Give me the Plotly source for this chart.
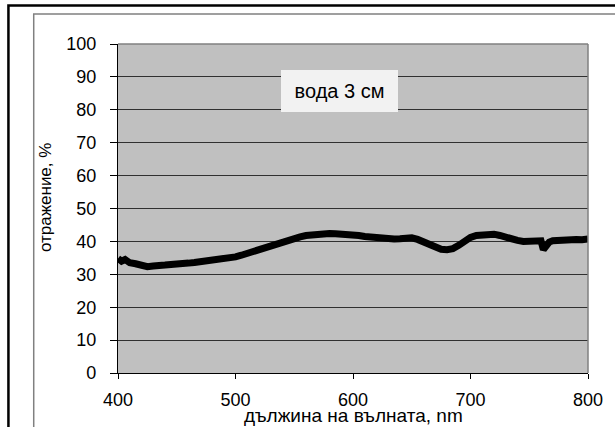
import plotly.graph_objects as go

wavelength = [400, 403, 406, 410, 415, 420, 425, 430, 435, 440, 445, 450, 455, 460, 465,
              470, 475, 480, 485, 490, 495, 500, 505, 510, 515, 520, 525, 530, 535, 540,
              545, 550, 555, 560, 565, 570, 575, 580, 585, 590, 595, 600, 605, 610, 615,
              620, 625, 630, 635, 640, 645, 650, 655, 660, 665, 670, 675, 680, 685, 690,
              695, 700, 705, 710, 715, 720, 725, 730, 735, 740, 745, 750, 755, 760, 762,
              764, 767, 770, 775, 780, 785, 790, 795, 800]
reflectance = [34.8, 34.0, 34.5, 33.5, 33.2, 32.6, 32.3, 32.5, 32.4, 32.8, 33.0, 33.3, 33.2, 33.4, 33.6,
               33.8, 34.0, 34.3, 34.5, 34.8, 35.0, 35.3, 35.8, 36.4, 37.0, 37.7, 38.2, 38.7, 39.2, 39.7,
               40.2, 40.8, 41.4, 41.8, 42.0, 42.2, 42.5, 42.4, 42.3, 42.3, 42.2, 42.0, 41.8, 41.5, 41.3,
               41.0, 41.0, 40.8, 40.7, 40.8, 40.9, 41.1, 40.6, 39.8, 39.0, 38.2, 37.6, 37.5, 37.8, 38.8,
               40.3, 41.2, 41.8, 42.0, 41.8, 42.2, 41.8, 41.2, 40.6, 40.3, 40.0, 39.9, 40.1, 40.2, 37.5,
               38.5, 39.8, 40.2, 40.4, 40.6, 40.5, 40.6, 40.5, 40.7]

x_ticks = [400, 500, 600, 700, 800]
y_ticks = [0, 10, 20, 30, 40, 50, 60, 70, 80, 90, 100]

x_title = "дължина на вълната, nm"
y_title = "отражение, %"
label_text = "вода 3 см"

W, H = 615, 427
L, R, T, B = 118, 592, 44, 373


def px(xp):
    return (xp - L) / (R - L)


def py(yp):
    return (B - yp) / (B - T)


FONT = "Liberation Sans, Arial, sans-serif"

fig = go.Figure()
fig.add_trace(go.Scatter(x=wavelength, y=reflectance, mode="lines",
                         line=dict(color="black", width=7), showlegend=False,
                         hoverinfo="skip"))

fig.update_layout(
    width=W, height=H,
    margin=dict(l=L, r=W - R, t=T, b=H - B, pad=0),
    paper_bgcolor="white",
    plot_bgcolor="#C0C0C0",
    font=dict(family=FONT, color="black", size=18),
    xaxis=dict(range=[400, 800], tickvals=x_ticks, showgrid=False, zeroline=False,
               showline=True, linecolor="black", linewidth=1.2,
               ticks="outside", ticklen=5, tickcolor="black", tickwidth=1,
               ticklabelstandoff=5, tickfont=dict(size=18, family=FONT)),
    yaxis=dict(range=[0, 100], tickvals=y_ticks, showgrid=True, gridcolor="#303030",
               gridwidth=1, zeroline=False,
               showline=True, linecolor="black", linewidth=1.2,
               ticks="outside", ticklen=7, tickcolor="black", tickwidth=1,
               ticklabelstandoff=10, tickfont=dict(size=18, family=FONT)),
    shapes=[
        dict(type="line", xref="paper", yref="paper", x0=0, x1=1, y0=1, y1=1,
             line=dict(color="#808080", width=1.5)),
        dict(type="line", xref="paper", yref="paper", x0=1, x1=1, y0=0, y1=1,
             line=dict(color="#808080", width=1.5)),
        dict(type="rect", xref="paper", yref="paper", x0=px(7.5), x1=px(700),
             y0=py(520), y1=py(5.5), line=dict(color="black", width=2.5),
             layer="below"),
        dict(type="rect", xref="paper", yref="paper", x0=px(33), x1=px(690),
             y0=py(510), y1=py(14), line=dict(color="#808080", width=1.5),
             layer="below"),
    ],
    annotations=[
        dict(x=588.6, y=85.7, xref="x", yref="y", text=label_text, showarrow=False,
             bgcolor="#F2F2F2", width=113, height=38, borderpad=2, borderwidth=0,
             font=dict(size=20, family=FONT, color="black")),
        dict(x=px(356), y=py(415), xref="paper", yref="paper", text=x_title,
             showarrow=False, font=dict(size=19, family=FONT, color="black"),
             xanchor="center", yanchor="middle"),
        dict(x=px(45), y=py(197.5), xref="paper", yref="paper", text=y_title,
             showarrow=False, textangle=-90,
             font=dict(size=17, family=FONT, color="black"),
             xanchor="center", yanchor="middle"),
    ],
)

fig.write_html("out.html")
